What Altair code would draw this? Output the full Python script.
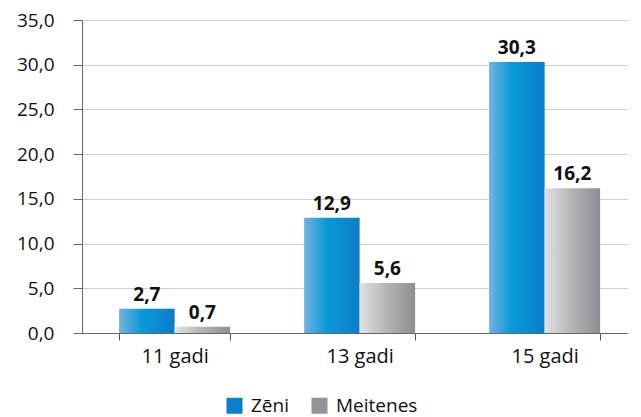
import altair as alt
import pandas as pd

categories = ["11 gadi", "13 gadi", "15 gadi"]
series = ["Zēni", "Meitenes"]
zeni = [2.7, 12.9, 30.3]
meitenes = [0.7, 5.6, 16.2]
legend_colors = ["#0a7fcc", "#939398"]

rows = []
for c, z, m in zip(categories, zeni, meitenes):
    rows.append({"cat": c, "series": "Zēni", "value": z})
    rows.append({"cat": c, "series": "Meitenes", "value": m})
df = pd.DataFrame(rows)

FONT = "Open Sans"

xenc = alt.X("cat:N", sort=categories, title=None,
             scale=alt.Scale(paddingInner=0.4, paddingOuter=0.173, align=0.58),
             axis=alt.Axis(labelAngle=0, tickBand="extent", labelFontSize=20,
                           labelFont=FONT, labelColor="#111", tickSize=7,
                           tickColor="#555", domainColor="#666", labelPadding=6,
                           grid=False))
xoff = alt.XOffset("series:N", sort=series, scale=alt.Scale(domain=series))
yenc = alt.Y("value:Q", title=None,
             scale=alt.Scale(domain=[0, 35], nice=False),
             axis=alt.Axis(values=[0, 5, 10, 15, 20, 25, 30, 35],
                           labelExpr="replace(format(datum.value, '.1f'), '.', ',')",
                           labelFontSize=19, labelFont=FONT, labelColor="#111",
                           tickSize=9, tickColor="#666", domainColor="#666",
                           labelPadding=19, gridColor="#cfcfcf", gridWidth=1))

blue_grad = alt.Gradient(gradient="linear", x1=0, x2=1, y1=0, y2=0,
                         stops=[alt.GradientStop(color="#74b2e0", offset=0),
                                alt.GradientStop(color="#0a9ad8", offset=0.4),
                                alt.GradientStop(color="#0a7cca", offset=1)])
gray_grad = alt.Gradient(gradient="linear", x1=0, x2=1, y1=0, y2=0,
                         stops=[alt.GradientStop(color="#e2e2e4", offset=0),
                                alt.GradientStop(color="#b4b4b8", offset=0.5),
                                alt.GradientStop(color="#8e8e92", offset=1)])

base = alt.Chart(df)

blue = base.transform_filter(alt.datum.series == "Zēni").mark_bar(
    color=blue_grad).encode(x=xenc, xOffset=xoff, y=yenc)
gray = base.transform_filter(alt.datum.series == "Meitenes").mark_bar(
    color=gray_grad).encode(x=xenc, xOffset=xoff, y=yenc)

labels = base.transform_calculate(
    lbl="replace(format(datum.value, '.1f'), '.', ',')"
).mark_text(dy=-14, fontSize=19, fontWeight="bold", font=FONT, color="#111").encode(
    x=xenc, xOffset=xoff, y=yenc, text="lbl:N")

legend_layer = base.transform_filter("false").mark_bar().encode(
    x=xenc, xOffset=xoff, y=yenc,
    color=alt.Color("series:N", sort=series,
                    scale=alt.Scale(domain=series, range=legend_colors),
                    legend=alt.Legend(title=None, orient="none", direction="horizontal",
                                      legendX=143, legendY=376, symbolType="square",
                                      symbolSize=256, symbolStrokeWidth=0,
                                      labelFontSize=19, labelFont=FONT, labelColor="#111",
                                      columnPadding=21, symbolOffset=0, padding=0,
                                      labelOffset=7)))

chart = alt.layer(blue, gray, labels, legend_layer).properties(
    width=545, height=313, autosize=alt.AutoSizeParams(type="none"),
    padding={"left": 74, "top": 12, "right": 6, "bottom": 84},
    background="white"
).configure_view(stroke=None)

chart.save("out.html", embed_options={"renderer": "svg", "actions": False})
